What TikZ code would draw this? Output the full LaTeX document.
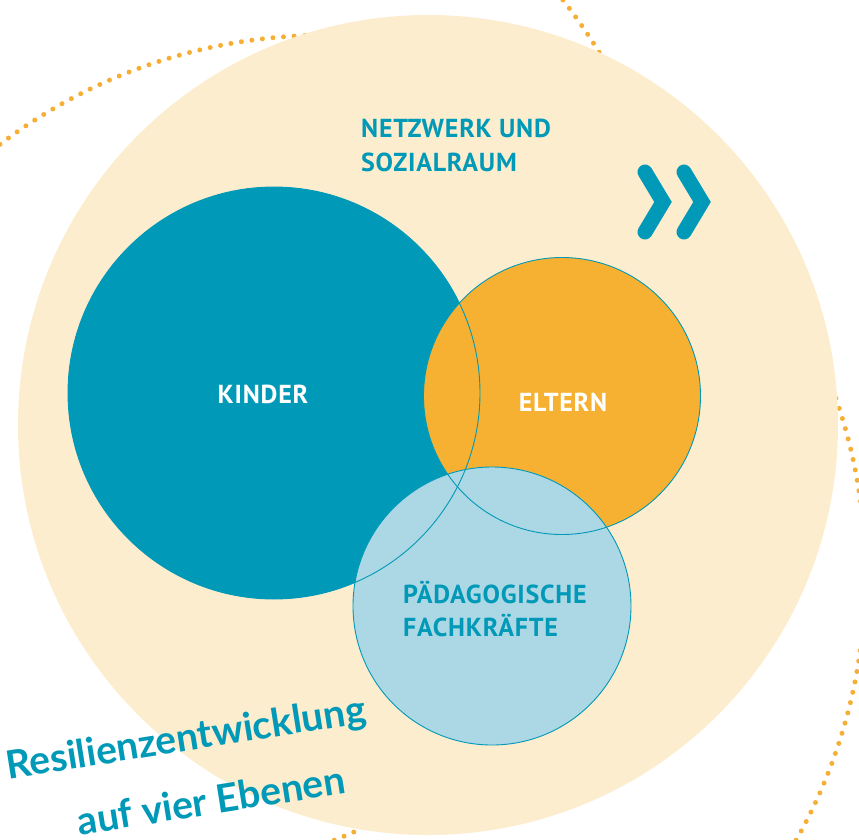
\documentclass[tikz,border=0pt]{standalone}
\usepackage{fontspec}
\setmainfont{PT Sans}
\newfontfamily\capsfont{PT Sans}[LetterSpace=3]
\newfontfamily\handfont{Lato}
\usetikzlibrary{positioning}

\definecolor{sandbg}{HTML}{FDEDCF}
\definecolor{kteal}{HTML}{0099B7}
\definecolor{korange}{HTML}{F6B133}
\definecolor{klight}{HTML}{ACD7E4}
\definecolor{dotorange}{HTML}{F7AE35}

\begin{document}
\begin{tikzpicture}[
      x=1pt, y=-1pt,
      disc/.style={
         circle,
         inner sep=0pt,
         outer sep=0pt,
         minimum size=#1},
      ring/.style={draw=kteal, line width=0.9pt},
      dots/.style={draw=dotorange, line width=5pt, line cap=round,
                   dash pattern=on 0pt off 10.6pt},
      caps/.style={font=\capsfont\fontsize{26}{30}\selectfont\bfseries, inner sep=0pt},
      hand/.style={font=\handfont\fontsize{39}{46}\selectfont\bfseries,
                   text=kteal, inner sep=0pt, rotate=9},
      chev/.style={draw=kteal, line width=15pt, line cap=round, line join=miter}
      ]
\useasboundingbox (0,0) rectangle (859,839);

\begin{scope}
\clip (0,0) rectangle (859,839);
\draw[dots] (325.5,575.2) circle[radius=540pt];
\draw[dots] (134.4,334.5) circle[radius=543.6pt];
\end{scope}

\node[disc=820pt, fill=sandbg] (netzwerk) at (428,425) {};

\node[disc=412pt, fill=kteal  ] (kinder) at (274,393) {};
\node[disc=277pt, fill=korange] (eltern) at (562,396) {};
\node[disc=278pt, fill=klight ] (paed)   at (492,606) {};

\foreach \n/\r in {kinder/206pt, eltern/138.5pt, paed/139pt}
   \draw[ring] (\n) circle[radius=\r];

\node[caps, text=kteal, anchor=base west] (netztxt)   at (361,137) {NETZWERK UND};
\node[caps, text=kteal, anchor=base west] (sozialtxt) at (361,171) {SOZIALRAUM};
\node[caps, text=white, anchor=base     ] (kindtxt)   at (263,403) {KINDER};
\node[caps, text=white, anchor=base     ] (elttxt)    at (563,411) {ELTERN};
\node[caps, text=kteal, anchor=base west] (paedtxt)   at (403,603) {PÄDAGOGISCHE};
\node[caps, text=kteal, anchor=base west] (fachtxt)   at (403,636) {FACHKRÄFTE};

\draw[chev] (645,172) -- (663,202) -- (645,232);
\draw[chev] (684,172) -- (702,202) -- (684,232);

\node[hand] (resil) at (186,740) {Resilienzentwicklung};
\node[hand] (ebenen) at (211,800) {auf vier Ebenen};

\end{tikzpicture}
\end{document}
